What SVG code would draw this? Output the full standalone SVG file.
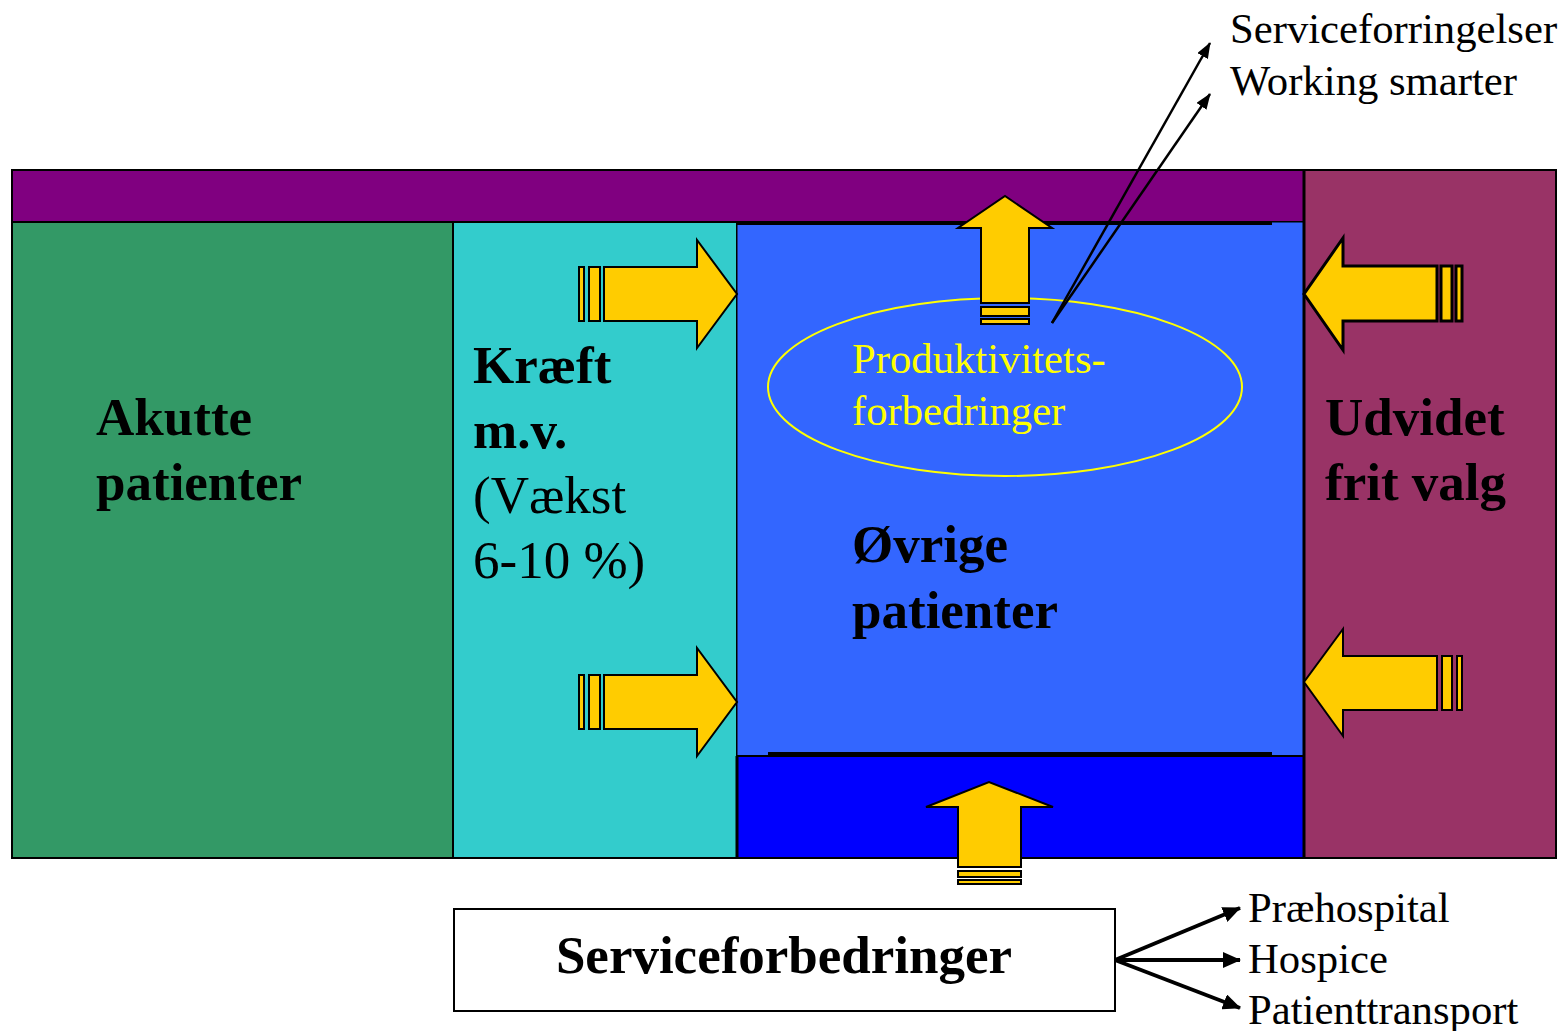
<svg xmlns="http://www.w3.org/2000/svg" width="1567" height="1031" viewBox="0 0 1567 1031">
<style>
.box{stroke:#000;stroke-width:2}
.arr{fill:#FFCC00;stroke:#000;stroke-width:2;stroke-linejoin:miter}
.arrT{fill:#FFCC00;stroke:#000;stroke-width:3}
.bt{font-family:"Liberation Serif","Times New Roman",serif;font-weight:bold;font-size:53px;fill:#000}
.rt{font-family:"Liberation Serif","Times New Roman",serif;font-size:53px;fill:#000}
.st{font-family:"Liberation Serif","Times New Roman",serif;font-size:42.7px;fill:#000}
.con{stroke:#000;stroke-width:2.5;fill:none}
.con2{stroke:#000;stroke-width:4;fill:none}
</style>
<defs>
<marker id="ah2" markerWidth="16" markerHeight="12" refX="15" refY="6" orient="auto" markerUnits="userSpaceOnUse" viewBox="0 0 16 12">
<path d="M0,0 L16,6 L0,12 z" fill="#000"/>
</marker>
<marker id="ah3" markerWidth="18" markerHeight="16" refX="17" refY="8" orient="auto" markerUnits="userSpaceOnUse" viewBox="0 0 18 16">
<path d="M0,0 L18,8 L0,16 z" fill="#000"/>
</marker>
</defs>
<rect width="1567" height="1031" fill="#fff"/>

<g id="purple-bar"><rect class="box" x="12" y="170" width="1292" height="52" fill="#800080"/></g>
<g id="frit-valg-col"><rect class="box" x="1304" y="170" width="252" height="688" fill="#993366"/>
<text class="bt" x="1325" y="435">Udvidet</text><text class="bt" x="1325" y="500">frit valg</text></g>
<g id="akutte"><rect class="box" x="12" y="222" width="441" height="636" fill="#339966"/>
<text class="bt" x="96" y="435">Akutte</text><text class="bt" x="96" y="500">patienter</text></g>
<g id="kraeft"><rect class="box" x="453" y="222" width="284" height="636" fill="#33CCCC"/>
<text class="bt" x="473" y="383">Kræft</text><text class="bt" x="473" y="448">m.v.</text>
<text class="rt" x="473" y="513">(Vækst</text><text class="rt" x="473" y="578">6-10 %)</text></g>
<g id="ovrige"><rect x="737" y="222" width="567" height="534" fill="#3366FF" stroke="#000" stroke-width="1"/>
<line x1="737" y1="223" x2="1272" y2="223" stroke="#000" stroke-width="4"/>
<text class="bt" x="852" y="562">Øvrige</text><text class="bt" x="852" y="628">patienter</text></g>
<g id="service-band"><rect x="737" y="756" width="567" height="102" fill="#0000FF" stroke="#000" stroke-width="2"/>
<line x1="768" y1="754" x2="1272" y2="754" stroke="#000" stroke-width="4"/>
<line x1="737" y1="756" x2="737" y2="858" stroke="#000" stroke-width="3"/>
<line x1="1304" y1="170" x2="1304" y2="858" stroke="#000" stroke-width="3"/></g>

<g id="produktivitet"><ellipse cx="1005" cy="387" rx="237" ry="89" fill="none" stroke="#FFFF00" stroke-width="2"/>
<text class="st" x="852" y="373" style="fill:#FFFF00">Produktivitets-</text>
<text class="st" x="852" y="425" style="fill:#FFFF00">forbedringer</text></g>

<g id="arrow-left-top">
<rect class="arr" x="579" y="267" width="5" height="54"/><rect class="arr" x="589" y="267" width="11" height="54"/>
<path class="arr" d="M604,267 L697,267 L697,240 L737,294 L697,348 L697,321 L604,321 Z"/></g>
<g id="arrow-left-bottom">
<rect class="arr" x="579" y="675" width="5" height="54"/><rect class="arr" x="589" y="675" width="11" height="54"/>
<path class="arr" d="M604,675 L697,675 L697,648 L737,702 L697,756 L697,729 L604,729 Z"/></g>
<g id="arrow-right-top">
<path class="arrT" d="M1437,266 L1343,266 L1343,238 L1304,294 L1343,350 L1343,321 L1437,321 Z"/>
<rect class="arrT" x="1441" y="266" width="11" height="55"/><rect class="arrT" x="1456" y="266" width="6" height="55"/></g>
<g id="arrow-right-bottom">
<path class="arr" d="M1437,656 L1343,656 L1343,629 L1304,682 L1343,736 L1343,710 L1437,710 Z"/>
<rect class="arr" x="1442" y="656" width="10" height="54"/><rect class="arr" x="1457" y="656" width="5" height="54"/></g>
<g id="arrow-up-top">
<path class="arr" d="M981,303 L981,228 L958,228 L1005,196 L1052,228 L1029,228 L1029,303 Z"/>
<rect class="arr" x="981" y="307" width="48" height="9"/><rect class="arr" x="981" y="319" width="48" height="5"/></g>
<g id="arrow-up-bottom">
<path class="arr" d="M958,867 L958,807 L926,807 L989,782 L1053,807 L1021,807 L1021,867 Z"/>
<rect class="arr" x="958" y="871" width="63" height="6"/><rect class="arr" x="958" y="880" width="63" height="4"/></g>

<g id="serviceforbedringer"><rect x="454" y="909" width="661" height="102" fill="#fff" stroke="#000" stroke-width="2"/>
<text class="bt" x="784" y="973" text-anchor="middle">Serviceforbedringer</text></g>

<g id="labels-top"><text class="st" x="1230" y="43">Serviceforringelser</text>
<text class="st" x="1230" y="95">Working smarter</text></g>
<g id="labels-bottom"><text class="st" x="1248" y="922">Præhospital</text>
<text class="st" x="1248" y="973">Hospice</text>
<text class="st" x="1248" y="1024">Patienttransport</text></g>

<g id="connectors">
<line class="con" x1="1052" y1="323" x2="1210" y2="43" marker-end="url(#ah2)"/>
<line class="con" x1="1052" y1="323" x2="1210" y2="94" marker-end="url(#ah2)"/>
<line class="con2" x1="1115" y1="960" x2="1240" y2="908" marker-end="url(#ah3)"/>
<line class="con2" x1="1115" y1="960" x2="1240" y2="960" marker-end="url(#ah3)"/>
<line class="con2" x1="1115" y1="960" x2="1240" y2="1008" marker-end="url(#ah3)"/>
</g>
</svg>
